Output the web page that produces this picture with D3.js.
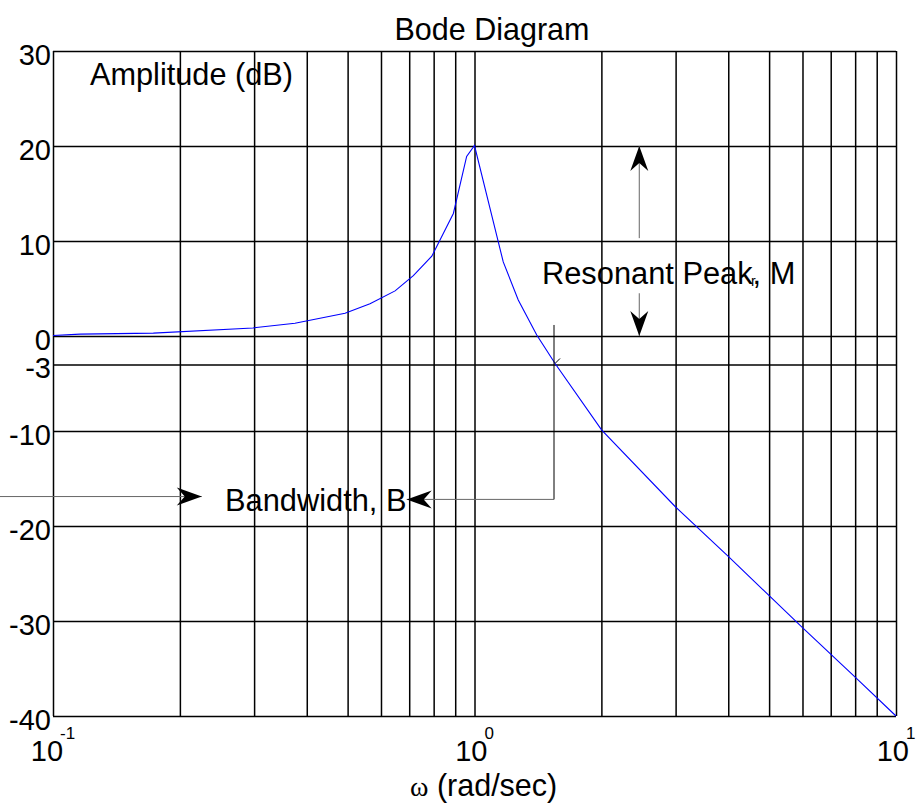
<!DOCTYPE html>
<html>
<head>
<meta charset="utf-8">
<script src="https://cdn.jsdelivr.net/npm/d3@7"></script>
<style>
  body { margin: 0; background: #fff; }
  svg { display: block; }
  text { font-family: "Liberation Sans", Arial, Helvetica, sans-serif; fill: #000; }
  .grid line { stroke: #000; stroke-width: 1.5; }
  .grid .domain { display: none; }
</style>
</head>
<body>
<svg id="svg1" width="919" height="806"></svg>
<script>
// frequency response (rad/sec, dB)
var omega = [0.1, 0.116, 0.173, 0.298, 0.375, 0.493, 0.565, 0.648, 0.716, 0.792, 0.891, 0.958, 1.0,
             1.17, 1.27, 1.405, 1.553, 2.004, 3, 4, 6, 8, 10];
var magDb = [0.05, 0.2, 0.3, 0.85, 1.35, 2.4, 3.4, 4.75, 6.35, 8.4, 12.9, 18.9, 20.05,
             7.8, 3.8, 0.1, -2.9, -9.9, -18.0, -23.2, -30.7, -35.9, -40];

var xGrid = [0.1, 0.2, 0.3, 0.4, 0.5, 0.6, 0.7, 0.8, 0.9, 1, 2, 3, 4, 5, 6, 7, 8, 9, 10];
var yTicks = [30, 20, 10, 0, -3, -10, -20, -30, -40];
var xLabels = [{base: "10", exp: "-1", w: 0.1}, {base: "10", exp: "0", w: 1}, {base: "10", exp: "1", w: 10}];

// annotation values (omega, dB)
var peakW = 2.46;
var peakUp = [10.3, 20];
var peakDown = [4.5, 0];
var bwW = 1.544;
var bwVert = [1.16, -17.2];
var bwLeft = [0.0748, 0.2254, -16.9];
var bwRight = [1.544, 0.6905, -17.2];

var svg = d3.select("#svg1");

var x = d3.scaleLog().domain([0.1, 10]).range([53, 896]);
var y = d3.scaleLinear().domain([-40, 30]).range([716, 51]);

var plotW = x(10) - x(0.1);
var plotH = y(-40) - y(30);

// arrow head
svg.append("defs").append("marker")
    .attr("id", "head")
    .attr("markerUnits", "userSpaceOnUse")
    .attr("viewBox", "-26 -10 27 20")
    .attr("refX", 0).attr("refY", 0)
    .attr("markerWidth", 27).attr("markerHeight", 20)
    .attr("orient", "auto")
  .append("path")
    .attr("d", "M0,0 L-25,-9 L-17,0 L-25,9 Z")
    .attr("fill", "#000");

// grid
svg.append("g")
    .attr("class", "grid")
    .attr("transform", "translate(0," + y(-40) + ")")
    .call(d3.axisBottom(x).tickValues(xGrid).tickSize(-plotH).tickFormat(""));

svg.append("g")
    .attr("class", "grid")
    .attr("transform", "translate(" + x(0.1) + ",0)")
    .call(d3.axisLeft(y).tickValues(yTicks).tickSize(-plotW).tickPadding(2)
            .tickFormat(function(d) { return String(d); }))
    .call(function(g) {
      g.selectAll(".tick text")
        .attr("font-size", 29)
        .attr("dy", "0.45em")
        .style("font-family", "'Liberation Sans', Arial, sans-serif");
    });

svg.selectAll(".grid .tick:first-of-type line").attr("stroke-width", 1);

// x labels 10^n
var xl = svg.selectAll(".xlab")
    .data(xLabels)
    .enter()
    .append("text")
      .attr("class", "xlab")
      .attr("x", function(d) { return x(d.w); })
      .attr("y", 761)
      .attr("text-anchor", "middle")
      .attr("font-size", 29);
xl.append("tspan").text(function(d) { return d.base; });
xl.append("tspan")
    .attr("dx", -3)
    .attr("dy", -22)
    .attr("font-size", 17)
    .text(function(d) { return d.exp; });

// response curve
var line = d3.line()
    .x(function(d) { return x(d[0]); })
    .y(function(d) { return y(d[1]); });

svg.append("path")
    .datum(d3.zip(omega, magDb))
    .attr("d", line)
    .attr("fill", "none")
    .attr("stroke", "#0000ff")
    .attr("stroke-width", 1.1);

// resonant peak arrows
svg.append("line")
    .attr("x1", x(peakW)).attr("x2", x(peakW))
    .attr("y1", y(peakUp[0])).attr("y2", y(peakUp[1]))
    .attr("stroke", "#666").attr("stroke-width", 1)
    .attr("marker-end", "url(#head)");

svg.append("line")
    .attr("x1", x(peakW)).attr("x2", x(peakW))
    .attr("y1", y(peakDown[0])).attr("y2", y(peakDown[1]))
    .attr("stroke", "#666").attr("stroke-width", 1)
    .attr("marker-end", "url(#head)");

// bandwidth arrows
svg.append("line")
    .attr("x1", x(bwW)).attr("x2", x(bwW))
    .attr("y1", y(bwVert[0])).attr("y2", y(bwVert[1]))
    .attr("stroke", "#000").attr("stroke-width", 1);

svg.append("path")
    .attr("d", "M" + (x(bwW) + 1) + "," + (y(-3) - 1) + " l5,-5")
    .attr("stroke", "#000").attr("stroke-width", 1);

svg.append("line")
    .attr("x1", 0).attr("x2", x(bwLeft[1]))
    .attr("y1", y(bwLeft[2])).attr("y2", y(bwLeft[2]))
    .attr("stroke", "#666").attr("stroke-width", 1)
    .attr("marker-end", "url(#head)");

svg.append("line")
    .attr("x1", x(bwRight[0])).attr("x2", x(bwRight[1]))
    .attr("y1", y(bwRight[2])).attr("y2", y(bwRight[2]))
    .attr("stroke", "#666").attr("stroke-width", 1)
    .attr("marker-end", "url(#head)");

// texts
svg.append("text")
    .attr("x", 492).attr("y", 40)
    .attr("text-anchor", "middle")
    .attr("font-size", 30.5)
    .text("Bode Diagram");

svg.append("text")
    .attr("x", 90).attr("y", 85)
    .attr("font-size", 30.7)
    .text("Amplitude (dB)");

svg.append("text")
    .attr("x", 542).attr("y", 283.5)
    .attr("font-size", 30.8)
    .text("Resonant Peak, M");

svg.append("text")
    .attr("x", 751).attr("y", 286)
    .attr("font-size", 14)
    .text("r");

svg.append("text")
    .attr("x", 225).attr("y", 511)
    .attr("font-size", 30.8)
    .text("Bandwidth, B");

var xt = svg.append("text")
    .attr("x", 410).attr("y", 796)
    .attr("font-size", 30.5);
xt.append("tspan")
    .style("font-family", "'Liberation Serif', 'Times New Roman', serif")
    .attr("font-size", 28)
    .text("\u03c9");
xt.append("tspan").text(" (rad/sec)");
</script>
</body>
</html>
